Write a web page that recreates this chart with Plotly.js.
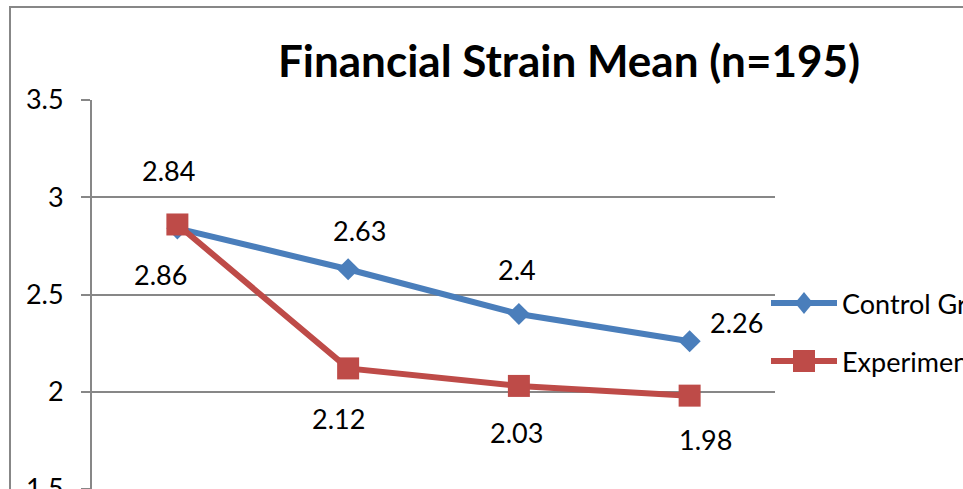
<!DOCTYPE html>
<html>
<head>
<meta charset="utf-8">
<script src="https://cdn.plot.ly/plotly-3.0.1.min.js"></script>
<style>
  html, body { margin: 0; padding: 0; background: #fff; }
  #chart { width: 963px; height: 489px; }
</style>
</head>
<body>
<div id="chart"></div>
<script>
// Survey waves (x positions) and mean financial strain per group
const waves = ["Wave 1", "Wave 2", "Wave 3", "Wave 4"];
const controlName = "Control Group";
const experimentalName = "Experimental Group";
const controlMeans = [2.84, 2.63, 2.4, 2.26];
const experimentalMeans = [2.86, 2.12, 2.03, 1.98];
const yTicks = [1.5, 2, 2.5, 3, 3.5];

// Label offsets in pixels (dx, dy) for each point's value label
const controlLabelShift = [[-9, 58], [11, 39], [-2, 44], [47, 19]];
const experimentalLabelShift = [[-17, -50], [-10, -50], [-2, -47], [16, -44]];

const BLUE = "#4A7EBB";
const RED = "#BE4B48";
const GRID = "#878787";
const FONT = "Lato, 'Open Sans', sans-serif";

const W = 963, H = 489;
const M = { l: 92, r: 188, t: 100, b: 0 };
const plotW = W - M.l - M.r, plotH = H - M.t - M.b;
// pixel -> paper helpers for decorations outside the plot area
const px = x => (x - M.l) / plotW;
const py = y => (H - M.b - y) / plotH;

const idx = waves.map((_, i) => i);

const traces = [
  {
    x: idx, y: controlMeans, name: controlName, type: "scatter", mode: "lines+markers",
    line: { color: BLUE, width: 6 },
    marker: { symbol: "diamond", size: 17, color: BLUE },
    cliponaxis: false, hoverinfo: "skip"
  },
  {
    x: idx, y: experimentalMeans, name: experimentalName, type: "scatter", mode: "lines+markers",
    line: { color: RED, width: 6 },
    marker: { symbol: "square", size: 22, color: RED },
    cliponaxis: false, hoverinfo: "skip"
  }
];

const labelFont = { family: FONT, size: 27, color: "#000" };
const annotations = [];
controlMeans.forEach((v, i) => annotations.push({
  x: i, y: v, xref: "x", yref: "y", text: String(v), showarrow: false,
  xshift: controlLabelShift[i][0], yshift: controlLabelShift[i][1], font: labelFont
}));
experimentalMeans.forEach((v, i) => annotations.push({
  x: i, y: v, xref: "x", yref: "y", text: String(v), showarrow: false,
  xshift: experimentalLabelShift[i][0], yshift: experimentalLabelShift[i][1], font: labelFont
}));

// Legend entries drawn at the right edge
const legendItems = [
  { name: controlName, color: BLUE, y: 303, marker: "M0,-11L9,0L0,11L-9,0Z" },
  { name: experimentalName, color: RED, y: 361, marker: "M-11,-11H11V11H-11Z" }
];
const shapes = [
  // outer chart frame
  { type: "rect", xref: "paper", yref: "paper", x0: px(10), x1: px(1400), y0: py(900), y1: py(7),
    line: { color: GRID, width: 2 }, fillcolor: "rgba(0,0,0,0)", layer: "below" }
];
legendItems.forEach(it => {
  shapes.push({ type: "line", xref: "paper", yref: "paper", x0: px(771), x1: px(837), y0: py(it.y), y1: py(it.y),
    line: { color: it.color, width: 6 } });
  shapes.push({ type: "path", xref: "paper", yref: "paper", xsizemode: "pixel", ysizemode: "pixel",
    xanchor: px(804), yanchor: py(it.y), path: it.marker, fillcolor: it.color, line: { width: 0 } });
  annotations.push({ xref: "paper", yref: "paper", x: px(840), y: py(it.y), xanchor: "left", yanchor: "middle",
    text: it.name, showarrow: false, font: labelFont });
});

const layout = {
  width: W, height: H,
  margin: M,
  paper_bgcolor: "#fff", plot_bgcolor: "#fff",
  showlegend: false,
  title: {
    text: "<b>Financial Strain Mean (n=195)</b>",
    font: { family: FONT, size: 44, color: "#000" },
    xref: "paper", x: px(569), xanchor: "center",
    yref: "container", y: 1 - 62 / H, yanchor: "middle"
  },
  xaxis: {
    type: "linear", range: [-0.5, 3.5], tickvals: idx, ticktext: waves,
    showgrid: false, zeroline: false, showline: false, ticks: "", showticklabels: false, fixedrange: true
  },
  yaxis: {
    range: [1.5, 3.5], tickvals: yTicks, ticktext: yTicks.map(String),
    showgrid: true, gridcolor: GRID, gridwidth: 2,
    showline: true, linecolor: GRID, linewidth: 2,
    ticks: "outside", ticklen: 9, tickwidth: 2, tickcolor: GRID,
    ticklabelstandoff: 12, ticklabeloverflow: "allow",
    tickfont: { family: FONT, size: 27, color: "#000" },
    zeroline: false, fixedrange: true
  },
  shapes, annotations,
  font: { family: FONT }
};

Plotly.newPlot("chart", traces, layout, { staticPlot: true, displayModeBar: false });
</script>
</body>
</html>
